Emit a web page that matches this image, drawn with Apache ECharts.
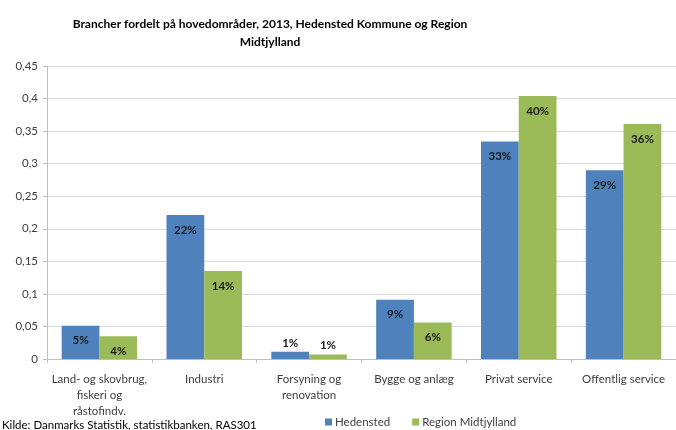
<!DOCTYPE html>
<html>
<head>
<meta charset="utf-8">
<script src="https://cdn.jsdelivr.net/npm/echarts@6/dist/echarts.min.js"></script>
<style>
  html, body { margin: 0; padding: 0; background: #fff; }
  #chart { width: 676px; height: 430px; }
</style>
</head>
<body>
<div id="chart"></div>
<script>
const categories = [
  'Land- og skovbrug,\nfiskeri og\nråstofindv.',
  'Industri',
  'Forsyning og\nrenovation',
  'Bygge og anlæg',
  'Privat service',
  'Offentlig service'
]
const hedensted = [0.051, 0.221, 0.011, 0.091, 0.334, 0.290]
const regionMidt = [0.035, 0.135, 0.007, 0.056, 0.404, 0.361]
const yTicks = [0, 0.05, 0.1, 0.15, 0.2, 0.25, 0.3, 0.35, 0.4, 0.45]

const font = "Lato, 'DejaVu Sans Condensed', sans-serif"

// små søjler får etiketten ovenpå, resten indeni
const withLabels = arr => arr.map(v => ({
  value: v,
  label: { position: v < 0.02 ? 'top' : 'insideTop', distance: v < 0.02 ? 3 : 9 }
}))

const chart = echarts.init(document.getElementById('chart'))
const option = {
  animation: false,
  textStyle: { fontFamily: font },
  title: {
    text: 'Brancher fordelt på hovedområder, 2013, Hedensted Kommune og Region\nMidtjylland',
    left: 270,
    top: 15,
    padding: 0,
    textAlign: 'center',
    textStyle: { fontFamily: font, fontSize: 12, fontWeight: 'bold', color: '#000', lineHeight: 18 }
  },
  legend: {
    left: 320,
    top: 411,
    itemWidth: 7,
    itemHeight: 7,
    itemGap: 22,
    icon: 'rect',
    textStyle: { fontFamily: font, fontSize: 11.5, color: '#404040', padding: [0, 0, 0, -2] }
  },
  graphic: [{
    type: 'text',
    left: 2,
    top: 419,
    style: { text: 'Kilde: Danmarks Statistik, statistikbanken, RAS301', font: '11.5px ' + font, fill: '#000' }
  }],
  grid: { left: 47, top: 66, width: 634, height: 293 },
  xAxis: {
    type: 'category',
    data: categories,
    axisLine: { lineStyle: { color: '#bfbfbf' } },
    axisTick: { show: true, length: 4, lineStyle: { color: '#bfbfbf' } },
    axisLabel: { fontFamily: font, fontSize: 11.5, color: '#404040', lineHeight: 16, margin: 12, interval: 0 }
  },
  yAxis: {
    type: 'value',
    min: 0,
    max: 0.45,
    interval: 0.05,
    axisLine: { show: true, lineStyle: { color: '#bfbfbf' } },
    axisTick: { show: true, length: 4, lineStyle: { color: '#bfbfbf' } },
    splitLine: { lineStyle: { color: '#d9d9d9' } },
    axisLabel: {
      fontFamily: font, fontSize: 11.5, color: '#404040', margin: 9,
      formatter: v => {
        const t = yTicks.find(x => Math.abs(x - v) < 1e-9)
        return String(t !== undefined ? t : v).replace('.', ',')
      }
    }
  },
  series: [
    {
      name: 'Hedensted',
      type: 'bar',
      data: withLabels(hedensted),
      barGap: '0%',
      barCategoryGap: '28%',
      itemStyle: { color: '#4f81bd' },
      label: {
        show: true, fontFamily: font, fontSize: 11.5, fontWeight: 'bold', color: '#1a1a1a',
        formatter: p => Math.round(p.value * 100) + '%'
      }
    },
    {
      name: 'Region Midtjylland',
      type: 'bar',
      data: withLabels(regionMidt),
      barGap: '0%',
      barCategoryGap: '28%',
      itemStyle: { color: '#9bbb59' },
      label: {
        show: true, fontFamily: font, fontSize: 11.5, fontWeight: 'bold', color: '#1a1a1a',
        formatter: p => Math.round(p.value * 100) + '%'
      }
    }
  ]
}
chart.setOption(option)
</script>
</body>
</html>
